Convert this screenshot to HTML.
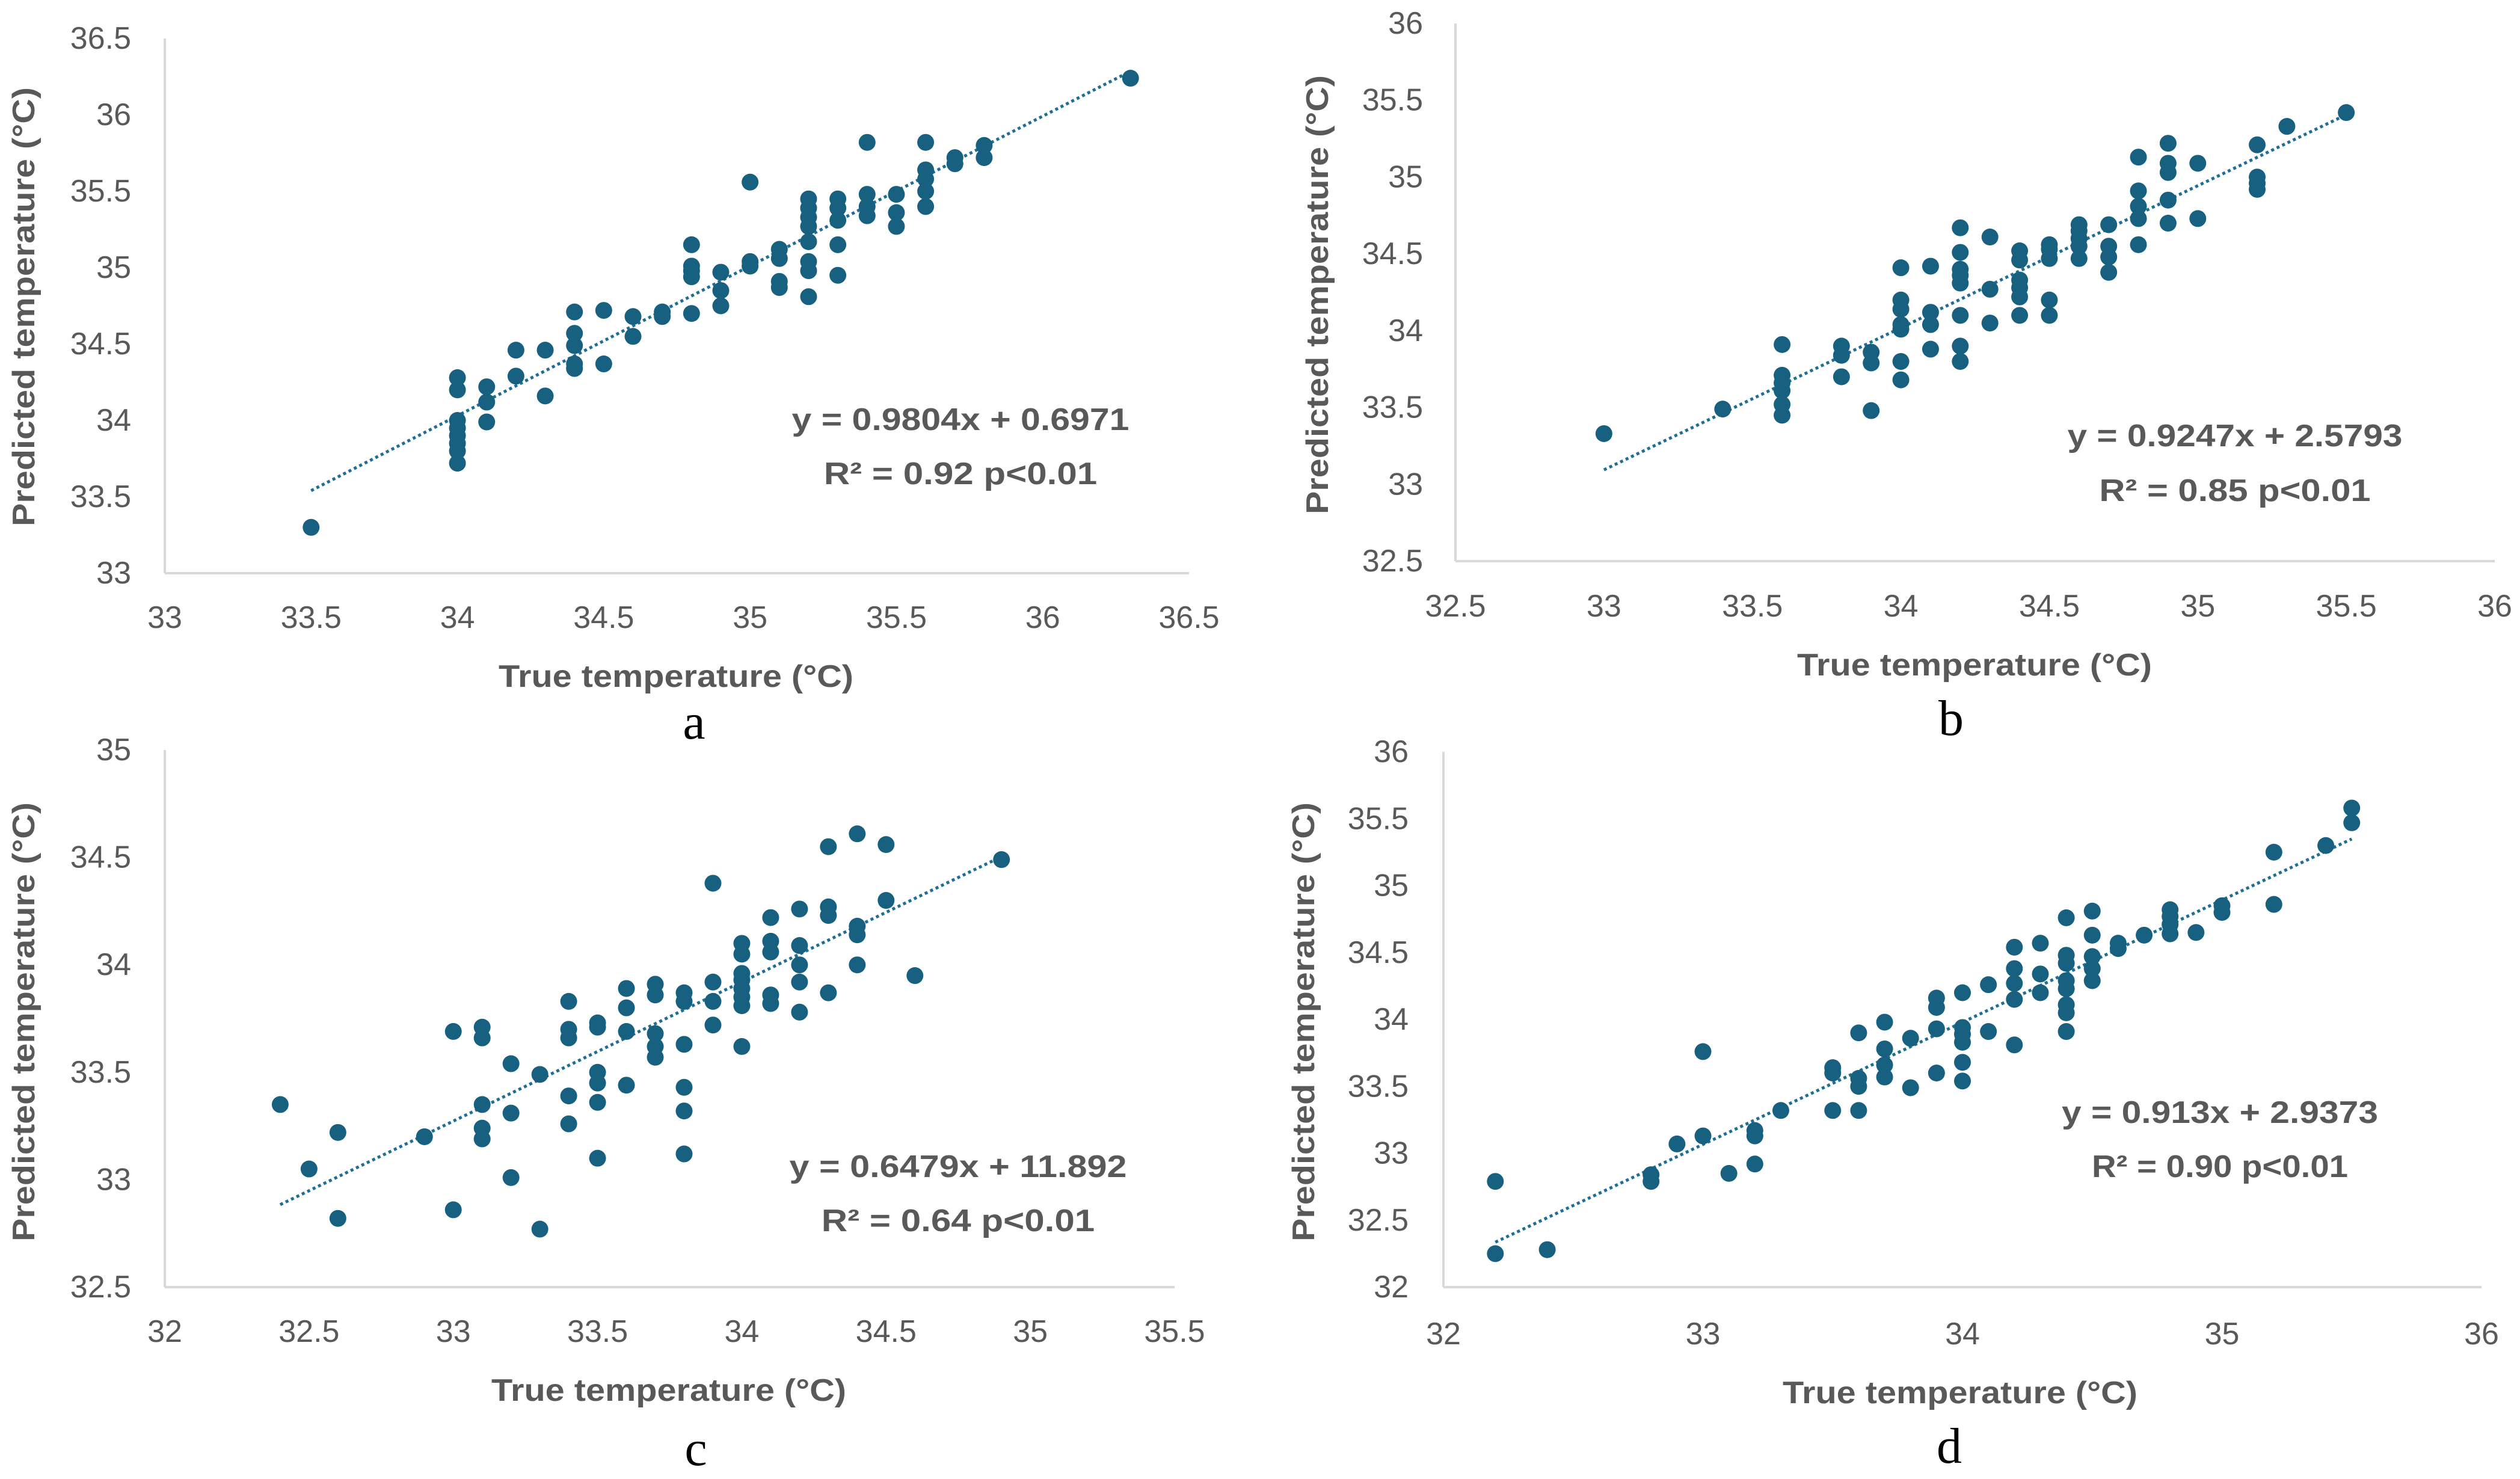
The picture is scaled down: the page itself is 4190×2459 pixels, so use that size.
<!DOCTYPE html>
<html><head><meta charset="utf-8"><style>
html,body{margin:0;padding:0;background:#fff;}
svg{display:block;}
text{font-family:"Liberation Sans","Noto Sans CJK JP",sans-serif;}
</style></head><body>
<svg id="fig" width="4190" height="2459" viewBox="0 0 4190 2459" xmlns="http://www.w3.org/2000/svg"></svg>
<script>
// Panel a data
const aTrue = [33.5,34,34,34,34,34,34,34,34,34.1,34.1,34.1,34.2,34.2,34.3,34.3,34.4,34.4,34.4,34.4,34.4,34.5,34.5,34.6,34.6,34.7,34.7,34.8,34.8,34.8,34.8,34.8,34.9,34.9,34.9,35,35,35,35.1,35.1,35.1,35.1,35.2,35.2,35.2,35.2,35.2,35.2,35.2,35.2,35.3,35.3,35.3,35.3,35.3,35.4,35.4,35.4,35.4,35.5,35.5,35.5,35.6,35.6,35.6,35.6,35.6,35.7,35.7,35.8,35.8,36.3];
const aPred = [33.3,34.28,34.2,34.0,33.95,33.9,33.85,33.8,33.72,34.22,34.12,33.99,34.46,34.29,34.46,34.16,34.71,34.57,34.49,34.37,34.34,34.72,34.37,34.68,34.55,34.71,34.68,35.15,35.01,34.98,34.94,34.70,34.97,34.85,34.75,35.56,35.04,35.01,35.12,35.06,34.91,34.87,35.45,35.39,35.33,35.27,35.17,35.04,34.98,34.81,35.45,35.39,35.31,35.15,34.95,35.82,35.48,35.40,35.34,35.48,35.36,35.27,35.82,35.64,35.58,35.50,35.40,35.72,35.68,35.80,35.72,36.24];
// Panel b data
const bTrue = [33,33.4,33.6,33.6,33.6,33.6,33.6,33.6,33.8,33.8,33.8,33.9,33.9,33.9,34,34,34,34,34,34,34,34.1,34.1,34.1,34.1,34.2,34.2,34.2,34.2,34.2,34.2,34.2,34.2,34.3,34.3,34.3,34.4,34.4,34.4,34.4,34.4,34.4,34.5,34.5,34.5,34.5,34.5,34.6,34.6,34.6,34.6,34.6,34.7,34.7,34.7,34.7,34.8,34.8,34.8,34.8,34.8,34.9,34.9,34.9,34.9,34.9,35,35,35.2,35.2,35.2,35.2,35.3,35.5];
const bPred = [33.33,33.49,33.91,33.71,33.66,33.61,33.52,33.45,33.90,33.84,33.70,33.86,33.79,33.48,34.41,34.20,34.14,34.04,34.01,33.80,33.68,34.42,34.12,34.04,33.88,34.67,34.51,34.40,34.36,34.31,34.10,33.90,33.80,34.61,34.27,34.05,34.52,34.46,34.33,34.28,34.22,34.10,34.56,34.53,34.47,34.20,34.10,34.69,34.65,34.60,34.55,34.47,34.69,34.55,34.48,34.38,35.13,34.91,34.81,34.73,34.56,35.22,35.09,35.03,34.85,34.70,35.09,34.73,35.21,35.0,34.96,34.92,35.33,35.42];
// Panel c data
const cTrue = [32.4,32.5,32.6,32.6,32.9,33,33,33.1,33.1,33.1,33.1,33.1,33.2,33.2,33.2,33.3,33.3,33.4,33.4,33.4,33.4,33.4,33.5,33.5,33.5,33.5,33.5,33.5,33.6,33.6,33.6,33.6,33.7,33.7,33.7,33.7,33.7,33.8,33.8,33.8,33.8,33.8,33.8,33.9,33.9,33.9,33.9,34,34,34,34,34,34,34,34,34.1,34.1,34.1,34.1,34.1,34.2,34.2,34.2,34.2,34.2,34.3,34.3,34.3,34.3,34.4,34.4,34.4,34.4,34.5,34.5,34.6,34.9];
const cPred = [33.35,33.05,33.22,32.82,33.20,33.69,32.86,33.71,33.66,33.35,33.24,33.19,33.54,33.31,33.01,33.49,32.77,33.83,33.70,33.66,33.39,33.26,33.73,33.71,33.50,33.45,33.36,33.10,33.89,33.80,33.69,33.44,33.91,33.86,33.68,33.62,33.57,33.87,33.83,33.63,33.43,33.32,33.12,34.38,33.92,33.83,33.72,34.10,34.05,33.96,33.93,33.89,33.85,33.81,33.62,34.22,34.11,34.06,33.86,33.82,34.26,34.09,34.0,33.92,33.78,34.55,34.27,34.23,33.87,34.61,34.18,34.14,34.0,34.56,34.30,33.95,34.49];
// Panel d data
const dTrue = [32.2,32.2,32.4,32.8,32.8,32.9,33,33,33.1,33.2,33.2,33.2,33.3,33.5,33.5,33.5,33.6,33.6,33.6,33.6,33.7,33.7,33.7,33.7,33.8,33.8,33.9,33.9,33.9,33.9,34,34,34,34,34,34,34.1,34.1,34.2,34.2,34.2,34.2,34.2,34.3,34.3,34.3,34.4,34.4,34.4,34.4,34.4,34.4,34.4,34.4,34.5,34.5,34.5,34.5,34.5,34.6,34.6,34.7,34.8,34.8,34.8,34.8,34.9,35,35,35.2,35.2,35.4,35.5,35.5];
const dPred = [32.79,32.25,32.28,32.84,32.79,33.07,33.76,33.13,32.85,33.17,33.13,32.92,33.32,33.64,33.60,33.32,33.90,33.56,33.50,33.32,33.98,33.78,33.66,33.57,33.86,33.49,34.16,34.09,33.93,33.60,34.20,33.94,33.89,33.83,33.68,33.54,34.26,33.91,34.54,34.38,34.27,34.15,33.81,34.57,34.34,34.20,34.76,34.48,34.42,34.29,34.23,34.11,34.05,33.91,34.81,34.63,34.47,34.38,34.29,34.57,34.53,34.63,34.82,34.77,34.71,34.64,34.65,34.85,34.80,35.25,34.86,35.30,35.58,35.47];
// Axis ticks
const aTicksX = [33,33.5,34,34.5,35,35.5,36,36.5];
const aTicksY = [33,33.5,34,34.5,35,35.5,36,36.5];
const bTicksX = [32.5,33,33.5,34,34.5,35,35.5,36];
const bTicksY = [32.5,33,33.5,34,34.5,35,35.5,36];
const cTicksX = [32,32.5,33,33.5,34,34.5,35,35.5];
const cTicksY = [32.5,33,33.5,34,34.5,35];
const dTicksX = [32,33,34,35,36];
const dTicksY = [32,32.5,33,33.5,34,34.5,35,35.5,36];
// Fits
const aFit = [0.9804, 0.6971];
const bFit = [0.9247, 2.5793];
const cFit = [0.6479, 11.892];
const dFit = [0.913, 2.9373];
const aEq = ["y = 0.9804x + 0.6971","R² = 0.92 p<0.01"];
const bEq = ["y = 0.9247x + 2.5793","R² = 0.85 p<0.01"];
const cEq = ["y = 0.6479x + 11.892","R² = 0.64 p<0.01"];
const dEq = ["y = 0.913x + 2.9373","R² = 0.90 p<0.01"];

const NS = "http://www.w3.org/2000/svg";
const svg = document.getElementById('fig');
function mk(tag, attrs, parent){
  const e = document.createElementNS(NS, tag);
  for (const k in attrs) e.setAttribute(k, attrs[k]);
  (parent||svg).appendChild(e);
  return e;
}
const panels = [
  {id:'a', tx:aTrue, py:aPred, ticksX:aTicksX, ticksY:aTicksY, fit:aFit, eq:aEq,
   px0:274, px1:1977, xmin:33, xmax:36.5, py0:953, py1:64, ymin:33, ymax:36.5,
   xlabY:1027, yLabR:218, xTitle:[1124,1125,590], yTitle:[40,510,730], eqPos:[1597,698,788,561], letter:[1154,1228]},
  {id:'b', tx:bTrue, py:bPred, ticksX:bTicksX, ticksY:bTicksY, fit:bFit, eq:bEq,
   px0:2420, px1:4148, xmin:32.5, xmax:36, py0:933, py1:39, ymin:32.5, ymax:36,
   xlabY:1008, yLabR:2366, xTitle:[3283,1106,590], yTitle:[2191,490,730], eqPos:[3716,725,816,557], letter:[3244,1222]},
  {id:'c', tx:cTrue, py:cPred, ticksX:cTicksX, ticksY:cTicksY, fit:cFit, eq:cEq,
   px0:274, px1:1953, xmin:32, xmax:35.5, py0:2140, py1:1247, ymin:32.5, ymax:35,
   xlabY:2214, yLabR:218, xTitle:[1112,2312,590], yTitle:[40,1699,730], eqPos:[1593,1940,2030,561], letter:[1157,2436]},
  {id:'d', tx:dTrue, py:dPred, ticksX:dTicksX, ticksY:dTicksY, fit:dFit, eq:dEq,
   px0:2400, px1:4126, xmin:32, xmax:36, py0:2140, py1:1250, ymin:32, ymax:36,
   xlabY:2218, yLabR:2342, xTitle:[3259,2316,590], yTitle:[2168,1699,730], eqPos:[3691,1850,1940,526], letter:[3241,2432]}
];
const GRAY = "#595959";
panels.forEach(p => {
  const g = mk('g', {});
  
  
  const X = v => p.px0 + (v - p.xmin) / (p.xmax - p.xmin) * (p.px1 - p.px0);
  const Y = v => p.py0 + (v - p.ymin) / (p.ymax - p.ymin) * (p.py1 - p.py0);
  const yax = mk('line', {x1:p.px0, y1:p.py1, x2:p.px0, y2:p.py0, stroke:'#d9d9d9', 'stroke-width':4}, g);
  
  
  const xax = mk('line', {x1:p.px0, y1:p.py0, x2:p.px1, y2:p.py0, stroke:'#d9d9d9', 'stroke-width':4}, g);
  
  
  p.ticksX.forEach(t => {
    const e = mk('text', {x:X(t), y:p.xlabY, 'font-size':52, fill:GRAY, 'text-anchor':'middle', 'dominant-baseline':'central'}, g);
    e.textContent = String(t);
    
    
  });
  p.ticksY.forEach(t => {
    const e = mk('text', {x:p.yLabR, y:Y(t), 'font-size':52, fill:GRAY, 'text-anchor':'end', 'dominant-baseline':'central'}, g);
    e.textContent = String(t);
    
    
  });
  const xt = mk('text', {x:p.xTitle[0], y:p.xTitle[1], 'font-size':52, 'font-weight':'bold', fill:GRAY, 'text-anchor':'middle', 'dominant-baseline':'central', textLength:p.xTitle[2], lengthAdjust:'spacingAndGlyphs'}, g);
  xt.textContent = 'True temperature (°C)';
  
  
  const yt = mk('text', {x:0, y:0, 'font-size':52, 'font-weight':'bold', fill:GRAY, 'text-anchor':'middle', 'dominant-baseline':'central', textLength:p.yTitle[2], lengthAdjust:'spacingAndGlyphs', transform:`translate(${p.yTitle[0]},${p.yTitle[1]}) rotate(-90)`}, g);
  yt.textContent = 'Predicted temperature (°C)';
  
  
  // trendline
  const xs0 = Math.min(...p.tx), xs1 = Math.max(...p.tx);
  const tl = mk('line', {x1:X(xs0), y1:Y(p.fit[0]*xs0+p.fit[1]), x2:X(xs1), y2:Y(p.fit[0]*xs1+p.fit[1]), stroke:'#1f6e94', 'stroke-width':5, 'stroke-dasharray':'5 5'}, g);
  
  
  p.tx.forEach((v, i) => {
    const c = mk('circle', {cx:X(v), cy:Y(p.py[i]), r:14, fill:'#17607f'}, g);
    
    
  });
  const e1 = mk('text', {x:p.eqPos[0], y:p.eqPos[1], 'font-size':52, 'font-weight':'bold', fill:GRAY, 'text-anchor':'middle', 'dominant-baseline':'central', textLength:p.eqPos[3], lengthAdjust:'spacingAndGlyphs'}, g);
  e1.textContent = p.eq[0];
  
  
  const e2 = mk('text', {x:p.eqPos[0], y:p.eqPos[2], 'font-size':52, 'font-weight':'bold', fill:GRAY, 'text-anchor':'middle', 'dominant-baseline':'central', textLength:p.eqPos[3]*0.81, lengthAdjust:'spacingAndGlyphs'}, g);
  e2.textContent = p.eq[1];
  
  
  const L = mk('text', {x:p.letter[0], y:p.letter[1], 'font-size':84, fill:'#000', 'text-anchor':'middle', style:'font-family:"Liberation Serif",serif'}, g);
  L.textContent = p.id;
  
  
});
</script>
</body></html>
